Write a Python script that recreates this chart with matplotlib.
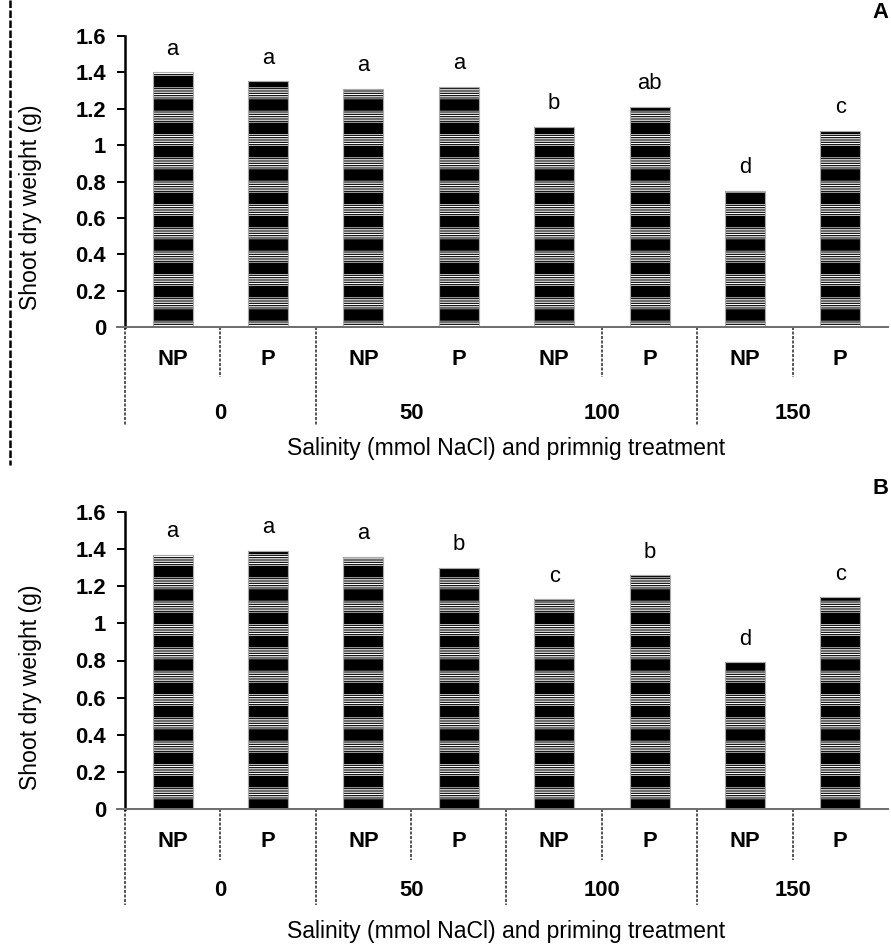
import matplotlib
matplotlib.use('Agg')
import matplotlib.pyplot as plt
from matplotlib.lines import Line2D

DPI = 140

priming = ['NP', 'P', 'NP', 'P', 'NP', 'P', 'NP', 'P']
salinity = ['0', '50', '100', '150']
shoot_a = [1.40, 1.35, 1.31, 1.32, 1.10, 1.21, 0.75, 1.08]
shoot_b = [1.37, 1.39, 1.36, 1.30, 1.13, 1.26, 0.79, 1.14]
letters_a = ['a', 'a', 'a', 'a', 'b', 'ab', 'd', 'c']
letters_b = ['a', 'a', 'a', 'b', 'c', 'b', 'd', 'c']
yticks = [0, 0.2, 0.4, 0.6, 0.8, 1, 1.2, 1.4, 1.6]

plt.rcParams['font.family'] = ['Liberation Sans', 'DejaVu Sans']


def px(p):
    # pixels -> points
    return p * 72.0 / DPI


def striped_bars(ax, x, h):
    fine = px(1.2)
    band = px(11.5)
    with plt.rc_context({'hatch.linewidth': fine}):
        b1 = ax.bar(x, h, width=0.42, color='black', edgecolor='white',
                    hatch='-' * 10, linewidth=0, zorder=2)
    with plt.rc_context({'hatch.linewidth': band}):
        b2 = ax.bar(x, h, width=0.42, facecolor='none', edgecolor='black',
                    hatch='-', linewidth=0, zorder=3)
    for p in b1:
        if hasattr(p, 'set_hatch_linewidth'):
            p.set_hatch_linewidth(fine)
    for p in b2:
        if hasattr(p, 'set_hatch_linewidth'):
            p.set_hatch_linewidth(band)
    ax.bar(x, h, width=0.42, facecolor='none', edgecolor='#aaaaaa',
           linewidth=0.6, zorder=4)


def panel(ax, vals, letters, xlabel, tag, short_k, long_k, rows):
    x = list(range(len(vals)))
    striped_bars(ax, x, vals)
    for xi, v, t in zip(x, vals, letters):
        ax.annotate(t, (xi, v), xytext=(0, px(23)), textcoords='offset points',
                    ha='center', va='center', fontsize=px(22))
    ax.set_xlim(-0.5, 7.5)
    ax.set_ylim(0, 1.6)
    ax.set_yticks(yticks)
    ax.set_yticklabels(['{:g}'.format(t) for t in yticks], fontsize=px(22),
                       fontweight='bold')
    ax.tick_params(axis='y', direction='out', length=px(8), width=px(2),
                   pad=px(11))
    ax.set_xticks([])
    for s in ['top', 'right', 'bottom']:
        ax.spines[s].set_visible(False)
    ax.spines['left'].set_linewidth(px(2.5))
    ax.plot([-0.585, 7.5], [0, 0], color='#707070', lw=px(2), clip_on=False,
            zorder=5)
    y_np, y_sal, y_lab, y_short, y_long = rows
    tr = ax.get_xaxis_transform()
    for xi, t in zip(x, priming):
        ax.text(xi, y_np, t, transform=tr, ha='center', va='center',
                fontsize=px(22), fontweight='bold')
    for i, t in enumerate(salinity):
        ax.text(2 * i + 0.5, y_sal, t, transform=tr, ha='center', va='center',
                fontsize=px(22), fontweight='bold')
    for k in short_k:
        ax.plot([k - 0.5, k - 0.5], [0, y_short], transform=tr, color='#222222',
                lw=px(1.5), ls=(0, (2, 1)), clip_on=False)
    for k in long_k:
        ax.plot([k - 0.5, k - 0.5], [0, y_long], transform=tr, color='#222222',
                lw=px(1.5), ls=(0, (2, 1)), clip_on=False)
    ax.text(3.5, y_lab, xlabel, transform=tr, ha='center', va='center',
            fontsize=px(23))
    ax.set_ylabel('Shoot dry weight (g)', fontsize=px(23))
    ax.yaxis.set_label_coords(-0.109, 0.41)
    ax.text(1.0, 1.08, tag, transform=ax.transAxes, ha='right', va='center',
            fontsize=px(22), fontweight='bold')


fig = plt.figure(figsize=(892 / DPI, 949 / DPI), dpi=DPI)
W, H = 892.0, 949.0
ax_a = fig.add_axes([125 / W, (H - 327) / H, 763 / W, 291 / H])
ax_b = fig.add_axes([125 / W, (H - 809) / H, 763 / W, 297 / H])

panel(ax_a, shoot_a, letters_a,
      'Salinity (mmol NaCl) and primnig treatment', 'A',
      short_k=[1, 5, 7], long_k=[0, 2, 6],
      rows=(-0.113, -0.296, -0.419, -0.172, -0.337))
panel(ax_b, shoot_b, letters_b,
      'Salinity (mmol NaCl) and priming treatment', 'B',
      short_k=[1, 3, 5, 7], long_k=[0, 2, 4, 6],
      rows=(-0.111, -0.273, -0.414, -0.172, -0.323))

# scan border on the left of the top panel
fig.add_artist(Line2D([10 / W, 10 / W], [1.0, (H - 465) / H], color='black',
                      lw=px(2.5), ls=(0, (3, 1))))

fig.savefig('out.png', dpi=DPI)
